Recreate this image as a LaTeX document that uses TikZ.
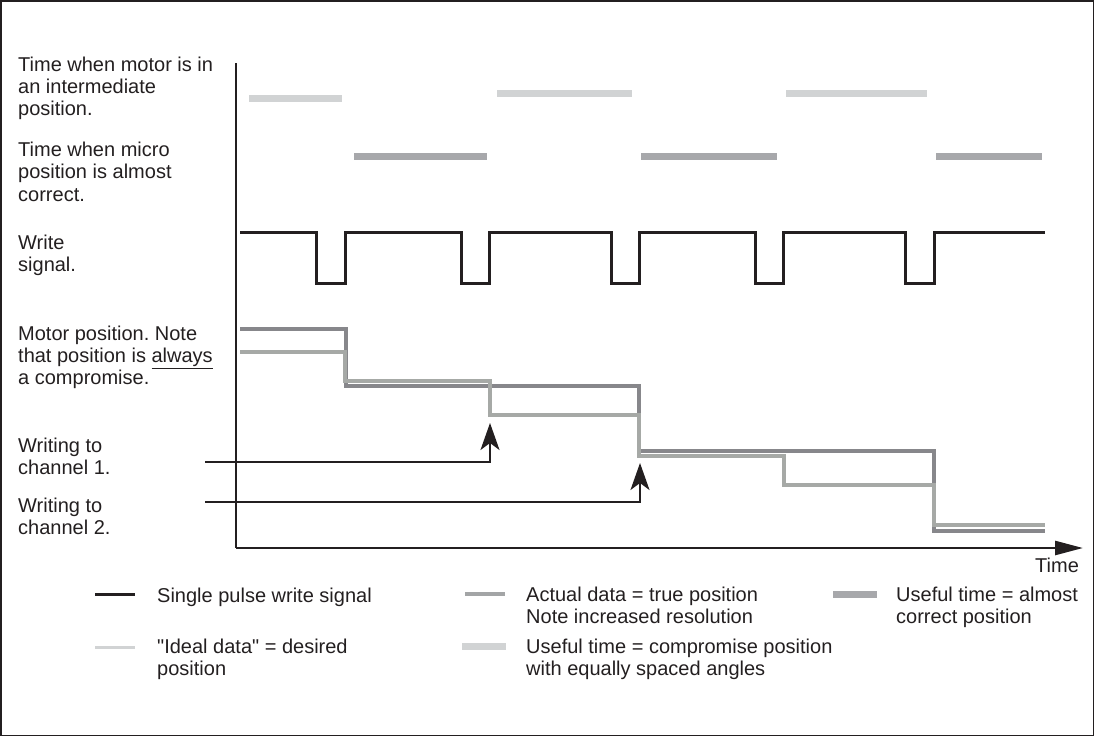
\documentclass[tikz,border=0pt]{standalone}
\usepackage{fontspec}
\setmainfont{Liberation Sans}
\usetikzlibrary{arrows.meta}
\frenchspacing
\definecolor{ink}{HTML}{231F20}
\definecolor{stepdark}{HTML}{87878B}
\definecolor{steplight}{HTML}{A6A9A6}
\definecolor{barlight}{HTML}{D1D3D4}
\definecolor{bardark}{HTML}{A7A8AB}
\definecolor{legactual}{HTML}{A3A5A6}
\tikzset{
  lbl/.style={anchor=base west, inner sep=0pt, align=left, text=ink,
    font=\fontsize{20}{22.4}\selectfont},
  framebox/.style={draw=ink, line width=1.2pt},
  axisline/.style={draw=ink, line width=2.6pt},
  writesig/.style={draw=ink, line width=3pt, line join=miter},
  darkstep/.style={draw=stepdark, line width=3.5pt, line join=miter},
  lightstep/.style={draw=steplight, line width=3.5pt, line join=miter},
  topbar/.style={draw=barlight, line width=7pt},
  midbar/.style={draw=bardark, line width=7pt},
  pointer/.style={draw=ink, line width=2pt, -{Stealth[length=27pt,width=19pt,inset=7pt]}},
}
\begin{document}
\begin{tikzpicture}[x=1pt,y=-1pt]
\useasboundingbox (0,0) rectangle (1095,737);
\draw[framebox] (1,1) rectangle (1093.5,735.5);

% left labels (base anchor = baseline of last line)
\node[lbl] (t1) at (18,115.8) {Time when motor is in\\an intermediate\\position.};
\node[lbl] (t2) at (18,201.3) {Time when micro\\position is almost\\correct.};
\node[lbl] (t3) at (18,271.4) {Write\\signal.};
\node[lbl] (t4) at (18,384.8) {Motor position. Note\\that position is \underline{always}\\a compromise.};
\node[lbl] (t5) at (18,474.4) {Writing to\\channel 1.};
\node[lbl] (t6) at (18,534.4) {Writing to\\channel 2.};

% axes
\coordinate (ytop) at (236,63);
\coordinate (orig) at (236,548);
\coordinate (xend) at (1083,548);
\draw[axisline] (ytop) -- (orig);
\draw[axisline, -{Triangle[length=28pt,width=14pt]}] (orig) -- (xend);
\node[lbl] (time) at (1035,572) {Time};

% top bars
\draw[topbar] (249,98) -- (342,98);
\draw[topbar] (497,93) -- (632,93);
\draw[topbar] (786,93) -- (927,93);
\draw[midbar] (354,156) -- (487,156);
\draw[midbar] (641,156) -- (777,156);
\draw[midbar] (936,156) -- (1042,156);

% write signal
\draw[writesig] (240,232) -- (316,232) -- (316,283) -- (345,283) -- (345,232)
  -- (461,232) -- (461,283) -- (489,283) -- (489,232)
  -- (611,232) -- (611,283) -- (639,283) -- (639,232)
  -- (755,232) -- (755,283) -- (783,283) -- (783,232)
  -- (905,232) -- (905,283) -- (934,283) -- (934,232) -- (1045,232);

% motor position
\draw[darkstep] (240,329) -- (346,329) -- (346,386) -- (639,386) -- (639,451)
  -- (934,451) -- (934,531) -- (1045,531);
\draw[lightstep] (240,352) -- (345,352) -- (345,381) -- (490,381) -- (490,415)
  -- (639,415) -- (639,456) -- (784,456) -- (784,485) -- (934,485) -- (934,525) -- (1045,525);

% pointers
\coordinate (c1s) at (205,462);
\coordinate (c1t) at (490,423);
\coordinate (c2s) at (205,502);
\coordinate (c2t) at (640,463);
\draw[pointer] (c1s) -| (c1t);
\draw[pointer] (c2s) -| (c2t);

% legend
\draw[draw=ink, line width=3pt] (95,594) -- (135,594);
\node[lbl] (l1) at (157,602) {Single pulse write signal};
\draw[draw=barlight, line width=3pt] (95,647) -- (135,647);
\node[lbl] (l2) at (157,675.4) {\textquotedbl Ideal data\textquotedbl{} = desired\\position};
\draw[draw=legactual, line width=3.5pt] (465,594) -- (505,594);
\node[lbl] (l3) at (526,623.4) {Actual data = true position\\Note increased resolution};
\draw[draw=barlight, line width=7pt] (462,646) -- (506,646);
\node[lbl] (l4) at (526,675.4) {Useful time = compromise position\\with equally spaced angles};
\draw[draw=bardark, line width=7pt] (833,594) -- (877,594);
\node[lbl] (l5) at (896,623.4) {Useful time = almost\\correct position};
\end{tikzpicture}
\end{document}
